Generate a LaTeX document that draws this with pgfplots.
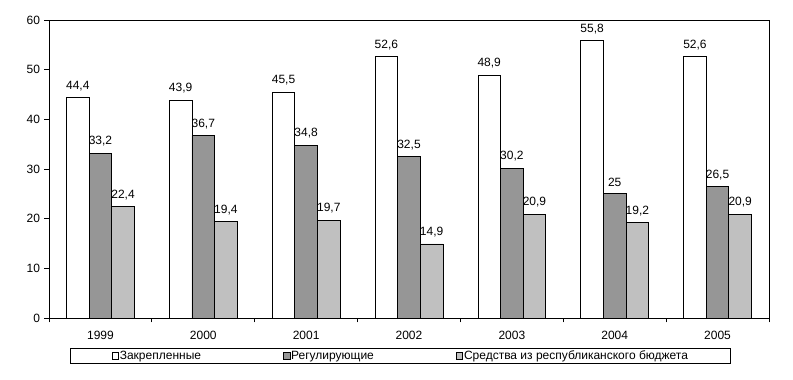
\documentclass[border=0pt]{standalone}
\usepackage{fontspec}
\setmainfont{Liberation Sans}
\usepackage{pgfplots}
\pgfplotsset{compat=1.18}
\definecolor{dgray}{RGB}{150,150,150}
\definecolor{lgray}{RGB}{192,192,192}
\begin{document}
\begin{tikzpicture}[x=1pt,y=1pt]
\path (0,0) rectangle (793,380);
\begin{axis}[
  at={(49pt,62pt)}, anchor=south west,
  scale only axis, width=720pt, height=298pt,
  ymin=0, ymax=60, ytick={0,10,...,60},
  xmin=-0.5, xmax=6.5,
  xtick={-0.5,0.5,...,6.5},
  x tick label as interval,
  xticklabels={1999,2000,2001,2002,2003,2004,2005},
  tick align=outside, major tick length=4.5pt,
  tick style={black, line width=0.8pt},
  axis line style={line width=0.8pt},
  xtick pos=bottom, ytick pos=left,
  ybar=0pt, bar width=0.22,
  font=\fontsize{12}{14}\selectfont,
  /pgf/number format/assume math mode=true,
  /pgf/number format/use comma,
  /pgf/number format/precision=1,
  nodes near coords,
  every node near coord/.append style={font=\fontsize{12}{14}\selectfont, yshift=3pt, black},
  yticklabel style={xshift=-1pt},
  xticklabel style={yshift=-5pt},
  legend columns=3,
  legend style={at={(0.488,-0.1275)}, anchor=center, draw=black, line width=0.8pt,
    inner xsep=41pt, inner ysep=0.8pt,
    font=\fontsize{12}{14}\selectfont,
    nodes={inner xsep=1pt, inner ysep=1.5pt},
    /tikz/every even column/.append style={column sep=81pt}},
  legend image code/.code={\draw[#1,draw=black,line width=0.6pt] (0pt,-3.2pt) rectangle (6.5pt,3.2pt);},
]
\addplot[fill=white, draw=black, line width=0.8pt] coordinates {(0,44.4) (1,43.9) (2,45.5) (3,52.6) (4,48.9) (5,55.8) (6,52.6)};
\addplot[fill=dgray, draw=black, line width=0.8pt] coordinates {(0,33.2) (1,36.7) (2,34.8) (3,32.5) (4,30.2) (5,25) (6,26.5)};
\addplot[fill=lgray, draw=black, line width=0.8pt] coordinates {(0,22.4) (1,19.4) (2,19.7) (3,14.9) (4,20.9) (5,19.2) (6,20.9)};
\legend{Закрепленные, Регулирующие, Средства из республиканского бюджета}
\end{axis}
\end{tikzpicture}
\end{document}
